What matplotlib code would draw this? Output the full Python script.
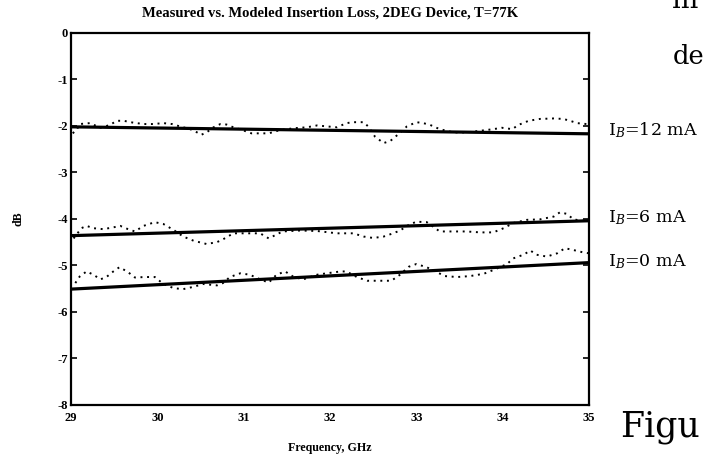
import matplotlib
matplotlib.use('Agg')
import matplotlib.pyplot as plt
import numpy as np

# model (solid) lines: end points
FREQ_MODEL = [29.0, 35.0]
MODEL_12MA = [-2.02, -2.17]
MODEL_6MA = [-4.36, -4.04]
MODEL_0MA = [-5.51, -4.94]

# measured (dotted) curves
FREQ_12MA = [29.02, 29.07, 29.10, 29.22, 29.34, 29.45, 29.53, 29.61, 29.72, 29.84,
             29.95, 30.07, 30.17, 30.26, 30.38, 30.46, 30.51, 30.57, 30.65, 30.73,
             30.80, 30.88, 31.00, 31.09, 31.19, 31.29, 31.42, 31.58, 31.73, 31.85,
             31.96, 32.08, 32.19, 32.27, 32.39, 32.44, 32.52, 32.62, 32.70, 32.79,
             32.89, 33.00, 33.08, 33.16, 33.27, 33.43, 33.58, 33.76, 33.89, 33.99,
             34.11, 34.18, 34.30, 34.43, 34.59, 34.70, 34.78, 34.86, 34.97]
MEAS_12MA = [-2.16, -2.07, -1.96, -1.94, -2.04, -1.98, -1.89, -1.89, -1.93, -1.96,
             -1.96, -1.94, -1.96, -2.01, -2.07, -2.14, -2.19, -2.14, -2.03, -1.96,
             -1.97, -2.03, -2.10, -2.16, -2.16, -2.16, -2.09, -2.05, -2.03, -1.99,
             -2.01, -2.03, -1.94, -1.92, -1.92, -2.01, -2.23, -2.37, -2.32, -2.18,
             -2.01, -1.92, -1.94, -1.98, -2.07, -2.14, -2.14, -2.10, -2.07, -2.04,
             -2.07, -1.98, -1.89, -1.85, -1.84, -1.85, -1.89, -1.94, -1.96]

FREQ_6MA = [29.03, 29.12, 29.18, 29.26, 29.37, 29.47, 29.57, 29.66, 29.74, 29.84,
            29.97, 30.07, 30.19, 30.30, 30.42, 30.57, 30.69, 30.76, 30.88, 31.07,
            31.19, 31.29, 31.45, 31.65, 31.85, 32.08, 32.27, 32.39, 32.50, 32.62,
            32.73, 32.81, 32.91, 33.00, 33.12, 33.27, 33.43, 33.58, 33.74, 33.89,
            34.01, 34.12, 34.28, 34.43, 34.59, 34.66, 34.74, 34.82, 34.99]
MEAS_6MA = [-4.42, -4.20, -4.15, -4.20, -4.22, -4.19, -4.15, -4.22, -4.27, -4.15,
            -4.07, -4.11, -4.24, -4.38, -4.47, -4.54, -4.50, -4.44, -4.31, -4.31,
            -4.31, -4.42, -4.27, -4.25, -4.26, -4.31, -4.31, -4.38, -4.41, -4.38,
            -4.31, -4.25, -4.13, -4.06, -4.07, -4.27, -4.27, -4.27, -4.29, -4.29,
            -4.20, -4.09, -4.02, -4.01, -3.95, -3.86, -3.89, -4.01, -4.06]

FREQ_0MA = [29.05, 29.10, 29.18, 29.26, 29.34, 29.41, 29.49, 29.56, 29.65, 29.74,
            29.86, 29.97, 30.07, 30.19, 30.30, 30.42, 30.53, 30.69, 30.76, 30.84,
            30.96, 31.07, 31.19, 31.29, 31.38, 31.48, 31.58, 31.69, 31.85, 31.96,
            32.12, 32.19, 32.31, 32.43, 32.58, 32.71, 32.81, 32.91, 33.00, 33.12,
            33.22, 33.33, 33.47, 33.62, 33.78, 33.89, 34.05, 34.12, 34.24, 34.32,
            34.39, 34.51, 34.63, 34.72, 34.82, 34.93, 35.00]
MEAS_0MA = [-5.38, -5.24, -5.13, -5.20, -5.30, -5.25, -5.13, -5.04, -5.13, -5.26,
            -5.25, -5.25, -5.40, -5.49, -5.51, -5.46, -5.40, -5.43, -5.38, -5.25,
            -5.17, -5.20, -5.30, -5.37, -5.20, -5.13, -5.25, -5.30, -5.20, -5.17,
            -5.13, -5.13, -5.25, -5.33, -5.33, -5.33, -5.20, -5.03, -4.97, -5.04,
            -5.13, -5.23, -5.25, -5.23, -5.18, -5.10, -4.97, -4.85, -4.77, -4.68,
            -4.77, -4.81, -4.74, -4.63, -4.67, -4.72, -4.74]

X_TICKS = [29, 30, 31, 32, 33, 34, 35]
Y_TICKS = [0, -1, -2, -3, -4, -5, -6, -7, -8]
LABELS = ['I$_B$=12 mA', 'I$_B$=6 mA', 'I$_B$=0 mA']
LABEL_Y = [-2.09, -3.98, -4.92]

plt.rcParams['font.family'] = 'Liberation Serif'
plt.rcParams['mathtext.fontset'] = 'dejavuserif'
plt.rcParams['xtick.direction'] = 'in'
plt.rcParams['ytick.direction'] = 'in'

fig = plt.figure(figsize=(7.03, 4.57), dpi=100)
ax = fig.add_axes([0.101, 0.114, 0.737, 0.814])

for meas_f, meas in [(FREQ_12MA, MEAS_12MA), (FREQ_6MA, MEAS_6MA), (FREQ_0MA, MEAS_0MA)]:
    ax.plot(meas_f, meas, color='black', linestyle=(0, (1, 2.4)), lw=1.4)
for model in [MODEL_12MA, MODEL_6MA, MODEL_0MA]:
    ax.plot(FREQ_MODEL, model, color='black', lw=2.3, solid_capstyle='butt')

ax.set_xlim(29, 35)
ax.set_ylim(-8, 0)
ax.set_xticks(X_TICKS)
ax.set_yticks(Y_TICKS)
ax.set_xticklabels(['29', '30', '31', '32', '33', '34', '35'], fontsize=9, fontweight='bold')
ax.set_yticklabels([str(t) for t in Y_TICKS], fontsize=9, fontweight='bold')
ax.tick_params(axis='y', right=True, length=4, width=1.2, pad=2)
ax.tick_params(axis='x', length=0, pad=5)
for sp in ax.spines.values():
    sp.set_linewidth(1.6)

ax.set_title('Measured vs. Modeled Insertion Loss, 2DEG Device, T=77K',
             fontsize=10.5, fontweight='bold', pad=12)
ax.set_xlabel('Frequency, GHz', fontsize=8.6, fontweight='bold', labelpad=13)
ax.set_ylabel('dB', fontsize=8.6, fontweight='bold', labelpad=24)

# curve labels outside the axes on the right
for lab, yv in zip(LABELS, LABEL_Y):
    ax.text(1.036, (yv + 8) / 8, lab, transform=ax.transAxes, fontsize=12.5,
            va='center', ha='left', family='DejaVu Serif')

# page text cut by the crop
fig.text(0.955, 0.998, 'm', fontsize=20, va='center', ha='left', family='DejaVu Serif')
fig.text(0.957, 0.877, 'de', fontsize=18.5, va='center', ha='left', family='DejaVu Serif')
fig.text(0.882, 0.065, 'Figu', fontsize=25, va='center', ha='left', family='DejaVu Serif')

plt.savefig('out.png', dpi=100, facecolor='white')
